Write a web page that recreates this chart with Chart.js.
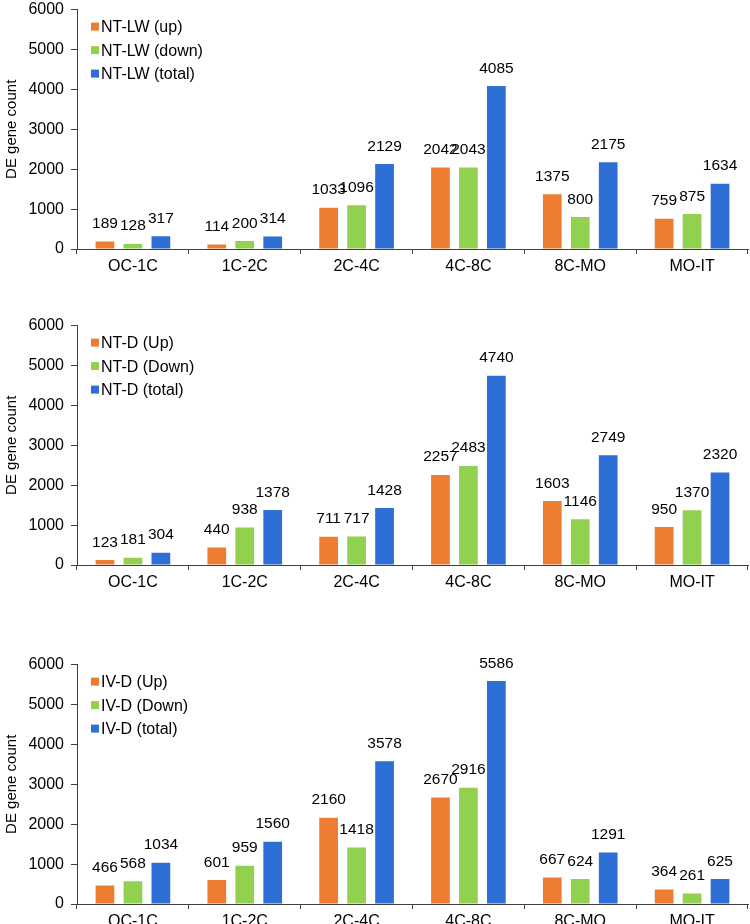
<!DOCTYPE html>
<html>
<head>
<meta charset="utf-8">
<script src="https://cdn.jsdelivr.net/npm/chart.js@4.4.1/dist/chart.umd.min.js"></script>
<style>
  html,body{margin:0;padding:0;background:#fff;}
  body{width:750px;height:924px;position:relative;overflow:hidden;}
  .panel{position:absolute;left:0;width:750px;height:286px;}
</style>
</head>
<body>
<div class="panel" style="top:-7px"><canvas id="c1"></canvas></div>
<div class="panel" style="top:309px"><canvas id="c2"></canvas></div>
<div class="panel" style="top:648px"><canvas id="c3"></canvas></div>
<script>
// ---------- DATA ----------
const categories = ["OC-1C","1C-2C","2C-4C","4C-8C","8C-MO","MO-IT"];
const yTicks = [0,1000,2000,3000,4000,5000,6000];

const ntlwLabels = ["NT-LW (up)","NT-LW (down)","NT-LW (total)"];
const ntlwUp    = [189,114,1033,2042,1375,759];
const ntlwDown  = [128,200,1096,2043,800,875];
const ntlwTotal = [317,314,2129,4085,2175,1634];

const ntdLabels = ["NT-D (Up)","NT-D (Down)","NT-D (total)"];
const ntdUp    = [123,440,711,2257,1603,950];
const ntdDown  = [181,938,717,2483,1146,1370];
const ntdTotal = [304,1378,1428,4740,2749,2320];

const ivdLabels = ["IV-D (Up)","IV-D (Down)","IV-D (total)"];
const ivdUp    = [466,601,2160,2670,667,364];
const ivdDown  = [568,959,1418,2916,624,261];
const ivdTotal = [1034,1560,3578,5586,1291,625];

const colors = ["#ED7D31","#92D050","#2E6FD6"];
const FONT = "'Liberation Sans', Arial, sans-serif";
const AXIS = "#404040";

// ----- plugin: value labels + inset legend -----
const labelsPlugin = {
  id: "valueLabels",
  afterDatasetsDraw(chart){
    const ctx = chart.ctx;
    ctx.save();
    ctx.font = "15.5px " + FONT;
    ctx.fillStyle = "#000";
    ctx.textAlign = "center";
    ctx.textBaseline = "bottom";
    chart.data.datasets.forEach((ds, i) => {
      chart.getDatasetMeta(i).data.forEach((bar, j) => {
        ctx.fillText(String(ds.data[j]), bar.x, bar.y - 10);
      });
    });
    // legend
    const a = chart.chartArea;
    ctx.font = "16px " + FONT;
    ctx.textAlign = "left";
    ctx.textBaseline = "middle";
    chart.data.datasets.forEach((ds, i) => {
      const y = a.top + 17 + i * 23.5;
      ctx.fillStyle = ds.backgroundColor;
      ctx.fillRect(a.left + 14, y - 4, 8, 8);
      ctx.fillStyle = "#000";
      ctx.fillText(ds.label, a.left + 24, y + 1);
    });
    ctx.restore();
  }
};

function makeChart(id, names, up, down, total){
  return new Chart(document.getElementById(id), {
    type: "bar",
    data: {
      labels: categories,
      datasets: [
        { label: names[0], data: up,    backgroundColor: colors[0] },
        { label: names[1], data: down,  backgroundColor: colors[1] },
        { label: names[2], data: total, backgroundColor: colors[2] }
      ]
    },
    options: {
      responsive: true,
      maintainAspectRatio: false,
      animation: false,
      devicePixelRatio: 1,
      layout: { padding: { top: 12, right: 2, left: 0, bottom: 0 } },
      datasets: { bar: { categoryPercentage: 0.75, barPercentage: 0.67 } },
      plugins: { legend: { display: false }, tooltip: { enabled: false } },
      scales: {
        x: {
          grid: { drawOnChartArea: false, drawTicks: true, tickLength: 5, color: AXIS, offset: true },
          border: { display: true, color: AXIS, width: 1 },
          ticks: { color: "#000", font: { family: FONT, size: 16 }, padding: 3, maxRotation: 0 },
          afterFit: s => { s.height = 30; }
        },
        y: {
          min: 0, max: 6000,
          afterBuildTicks: s => { s.ticks = yTicks.map(v => ({ value: v })); },
          grid: { drawOnChartArea: false, drawTicks: true, tickLength: 6, color: AXIS },
          border: { display: true, color: AXIS, width: 1 },
          ticks: { color: "#000", font: { family: FONT, size: 16 }, padding: 7, callback: v => String(v) },
          title: { display: true, text: "DE gene count", color: "#000", font: { family: FONT, size: 15 }, padding: { top: 3, bottom: 4 } },
          afterFit: s => { s.width = 77; }
        }
      }
    },
    plugins: [labelsPlugin]
  });
}

makeChart("c1", ntlwLabels, ntlwUp, ntlwDown, ntlwTotal);
makeChart("c2", ntdLabels, ntdUp, ntdDown, ntdTotal);
makeChart("c3", ivdLabels, ivdUp, ivdDown, ivdTotal);
</script>
</body>
</html>
